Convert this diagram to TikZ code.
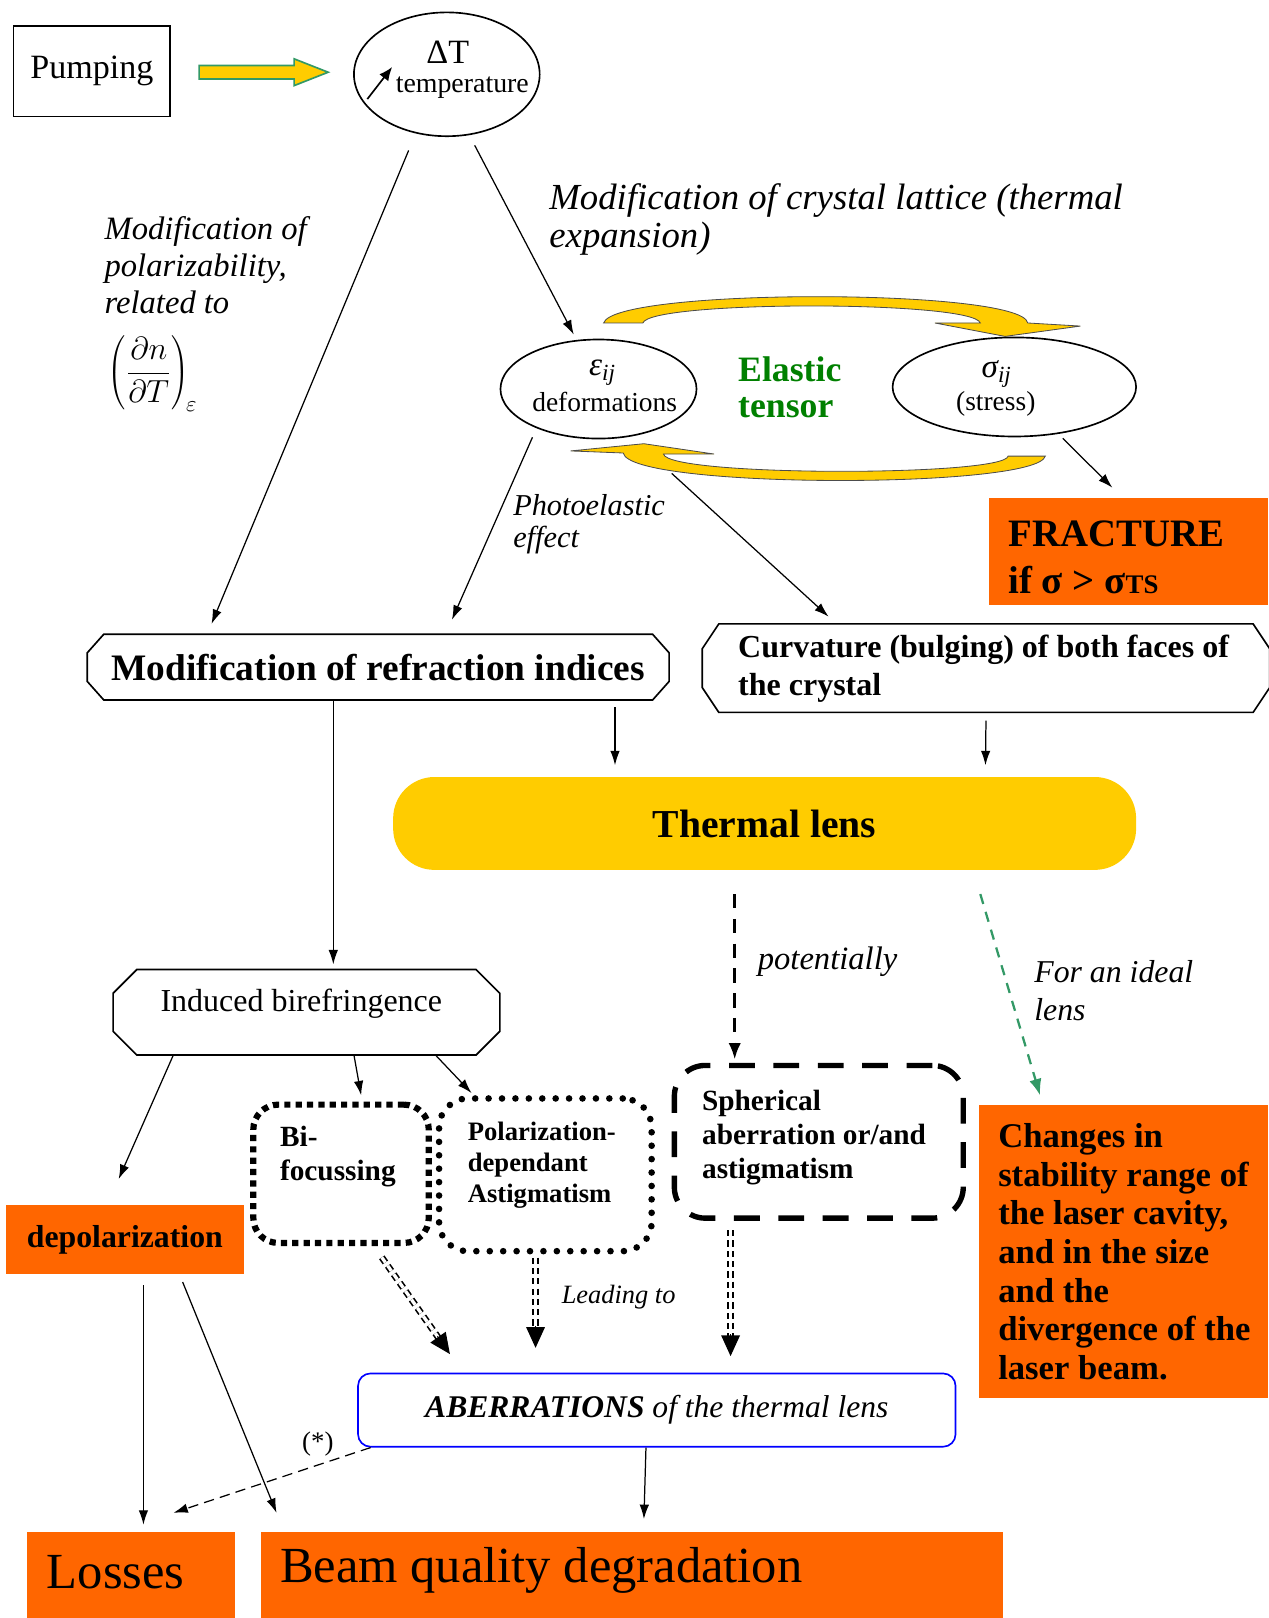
\documentclass[tikz,border=0pt]{standalone}
\usepackage{fix-cm}
\usepackage{fontspec}
\setmainfont{Liberation Serif}
\usetikzlibrary{shapes.geometric,arrows.meta,calc}

\definecolor{lensyellow}{HTML}{FFCC00}
\definecolor{boxorange}{HTML}{FF6600}
\definecolor{tensorgreen}{HTML}{008000}
\definecolor{idealgreen}{HTML}{339966}

\newcommand\fsz[2]{\fontsize{#1}{#2}\selectfont}
% octagon round a named node: node, x cut, y cut
\newcommand\octframe[3]{\draw[octline] ([xshift=#2]#1.north west) -- ([xshift=-#2]#1.north east) -- ([yshift=-#3]#1.north east) -- ([yshift=#3]#1.south east) -- ([xshift=-#2]#1.south east) -- ([xshift=#2]#1.south west) -- ([yshift=#3]#1.south west) -- ([yshift=-#3]#1.north west) -- cycle;}
% double dashed arrow between two named coordinates
\newcommand\dblarrow[2]{\draw[dblline, shorten >=9pt] (#1) -- (#2); \draw[bigtip] ($(#2)!10.5pt!(#1)$) -- (#2);}

\begin{document}
\begin{tikzpicture}[x=0.5pt,y=-0.5pt,
  arr/.style={-{Latex[length=7pt,width=4.6pt]}, line width=0.6pt},
  octline/.style={draw, line width=0.8pt},
  orangebox/.style={rectangle, fill=boxorange, inner sep=0pt},
  lbl/.style={inner sep=0pt, align=left},
  dblline/.style={double, double distance=1.6pt, line width=0.8pt, dash pattern=on 3pt off 2pt},
  bigtip/.style={-{Triangle[length=10pt,width=9pt]}, line width=0.5pt}]
\useasboundingbox (0,0) rectangle (1229,1568);

            % Pumping and temperature
            \node[draw, line width=0.8pt, minimum width=76pt, minimum height=44pt, font=\fsz{16.5}{18}] (pump) at (89,69) {Pumping};
            \filldraw[fill=lensyellow, draw=idealgreen, line width=0.8pt] (193,63.5) -- (285,63.5) -- (285,57) -- (318,70) -- (285,83) -- (285,76.5) -- (193,76.5) -- cycle;
            \node[ellipse, draw, line width=0.8pt, minimum width=90pt, minimum height=60pt] (dT) at (433,72) {};
            \node[font=\fsz{16.5}{18}] (dTsym) at (434,51) {ΔT};
            \node[font=\fsz{13.5}{15}] (dTtxt) at (448,85) {temperature};
            \coordinate (up1) at (356,96);
            \coordinate (up2) at (380,65);
            \draw[-{Latex[length=6.5pt,width=5.5pt]}, line width=0.8pt] (up1) -- (up2);

            % Elastic tensor
            \node[ellipse, draw, line width=0.8pt, minimum width=95pt, minimum height=48pt] (eps) at (580,377) {};
            \node[font=\fsz{16}{17}] (epssym) at (584,361) {\textit{ε\textsubscript{ij}}};
            \node[font=\fsz{13.3}{15}] (epstxt) at (586,390) {deformations};
            \node[ellipse, draw, line width=0.8pt, minimum width=118pt, minimum height=48pt] (sig) at (983,375) {};
            \node[font=\fsz{16}{17}] (sigsym) at (966,362) {\textit{σ\textsubscript{ij}}};
            \node[font=\fsz{13.3}{15}] (sigtxt) at (965,391) {(stress)};
            \node[lbl, anchor=west, text=tensorgreen, font=\bfseries\fsz{17.3}{17.5}] (tensor) at (715,375) {Elastic\\tensor};
            \filldraw[fill=lensyellow, draw=black!70, line width=0.4pt] (585,313) .. controls (595,279) and (990,279) .. (996,313) -- (1047,316) -- (974,326) -- (906,313) -- (950,313) .. controls (943,291) and (630,291) .. (623,313) -- cycle;
            \filldraw[fill=lensyellow, draw=black!70, line width=0.4pt] (553,437) -- (624,430) -- (692,440) -- (643,440) .. controls (647,462) and (973,462) .. (977,442) -- (1013,442) .. controls (1005,474) and (610,474) .. (604,439) -- cycle;

            % Comments
            \node[lbl, anchor=north west, font=\itshape\fsz{15.8}{18}] (polz) at (101,209) {Modification of\\polarizability,\\related to};
            \node[anchor=north west, inner sep=0pt, font=\fsz{15.5}{18}] (dndT) at (104,325) {$\left(\displaystyle\frac{\partial n}{\partial T}\right)_{\!\varepsilon}$};
            \node[lbl, anchor=west, font=\itshape\fsz{17.8}{18.5}] (lattice) at (532,213) {Modification of crystal lattice (thermal\\expansion)};
            \node[lbl, anchor=west, font=\itshape\fsz{14.7}{15.5}] (photo) at (497,508) {Photoelastic\\effect};
            \node[orangebox, minimum width=135.5pt, minimum height=51.5pt] (frac) at (1093.5,534.5) {};
            \node[lbl, anchor=west, font=\bfseries\fsz{18.8}{22.5}] (fractxt) at (977,540) {FRACTURE\\if σ > σ{\fsz{13}{13}TS}};

            % Refraction indices and bulging
            \node[minimum width=281.5pt, minimum height=31.5pt, font=\bfseries\fsz{18.1}{20}] (modref) at (366.5,646.5) {Modification of refraction indices};
            \octframe{modref}{8pt}{9pt}
            \node[minimum width=274.5pt, minimum height=42.5pt] (curv) at (955.5,647.5) {};
            \octframe{curv}{8pt}{12pt}
            \node[lbl, anchor=west, font=\bfseries\fsz{15.5}{18.5}] (curvtxt) at (715,648) {Curvature (bulging) of both faces of\\the crystal};
            \node[fill=lensyellow, rounded corners=20pt, minimum width=360pt, minimum height=45pt, font=\bfseries\fsz{19.2}{21}] (lens) at (741,798) {Thermal lens};

            % Birefringence and aberration types
            \node[minimum width=187pt, minimum height=41pt] (biref) at (297,981) {};
            \octframe{biref}{11.5pt}{11.5pt}
            \node[font=\fsz{15.5}{17}] (bireftxt) at (292,973) {Induced birefringence};
            \node[lbl, anchor=west, font=\itshape\fsz{15.8}{18}] (pot) at (734,932) {potentially};
            \node[lbl, anchor=west, font=\itshape\fsz{15.4}{18}] (ideal) at (1002,960) {For an ideal\\lens};
            \node[draw, line width=2.6pt, dash pattern=on 12.5pt off 9pt, rounded corners=15pt, minimum width=140pt, minimum height=74pt] (spher) at (793.5,1106.5) {};
            \node[lbl, anchor=west, font=\bfseries\fsz{14.2}{16.5}] (sphertxt) at (680,1102) {Spherical\\aberration or/and\\astigmatism};
            \node[draw, line width=3pt, dash pattern=on 3pt off 2.5pt, rounded corners=12pt, minimum width=85pt, minimum height=67pt] (bifoc) at (330.5,1137.5) {};
            \node[lbl, anchor=west, font=\bfseries\fsz{14.2}{16.5}] (biftxt) at (271,1121) {Bi-\\focussing};
            \node[draw, line width=3.2pt, line cap=round, dash pattern=on 0pt off 6.5pt, rounded corners=14pt, minimum width=103pt, minimum height=74pt] (poldep) at (528.5,1138.5) {};
            \node[lbl, anchor=west, font=\bfseries\fsz{12.9}{15}] (poltxt) at (453,1129) {Polarization-\\dependant\\Astigmatism};
            \node[orangebox, minimum width=115pt, minimum height=33.5pt, font=\bfseries\fsz{15.4}{17}] (depol) at (121,1201.5) {depolarization};
            \node[orangebox, minimum width=140pt, minimum height=142pt] (changes) at (1089,1213) {};
            \node[lbl, anchor=west, font=\bfseries\fsz{16.8}{18.7}] (chgtxt) at (967,1213) {Changes in\\stability range of\\the laser cavity,\\and in the size\\and the\\divergence of the\\laser beam.};

            % Aberrations and results
            \node[lbl, anchor=west, font=\itshape\fsz{12.8}{14}] (lead) at (544,1257) {Leading to};
            \node[draw=blue, line width=0.8pt, rounded corners=6pt, minimum width=289.5pt, minimum height=35.5pt, font=\itshape\fsz{15.3}{17}] (aberr) at (636.5,1366.5) {\textbf{ABERRATIONS} of the thermal lens};
            \node[font=\fsz{13}{15}] (star) at (308,1399) {(*)};
            \node[orangebox, minimum width=101pt, minimum height=42pt] (loss) at (127,1527) {};
            \node[lbl, anchor=west, font=\fsz{24.5}{26}] (losstxt) at (45,1524) {Losses};
            \node[orangebox, minimum width=359.5pt, minimum height=42pt] (beam) at (612.5,1527) {};
            \node[lbl, anchor=west, font=\fsz{24.5}{26}] (beamtxt) at (271,1522) {Beam quality degradation};

            % Links
            \draw[arr] ([xshift=-18.5pt,yshift=-6.5pt]dT.south) -- ([xshift=-80.75pt,yshift=5pt]modref.north);
            \draw[arr] ([xshift=13.5pt,yshift=-4pt]dT.south) -- ([xshift=-12pt,yshift=2pt]eps.north);
            \draw[arr] ([xshift=-32pt,yshift=1pt]eps.south) -- ([xshift=35.75pt,yshift=7pt]modref.north);
            \draw[arr] ([xshift=35.5pt,yshift=-16.5pt]eps.south) -- ([xshift=-76.25pt,yshift=3.5pt]curv.north);
            \draw[arr] ([xshift=23.5pt,yshift=-0.5pt]sig.south) -- ([xshift=-7.75pt,yshift=5pt]frac.north);
            \draw[arr] ([xshift=-21.75pt]modref.south) -- ([xshift=13pt,yshift=2.5pt]biref.north);
            \draw[arr] ([xshift=114.75pt,yshift=-3.5pt]modref.south) -- ([xshift=-72.5pt,yshift=5.5pt]lens.north);
            \draw[arr] ([yshift=-4pt]curv.south) -- ([xshift=107pt,yshift=5.5pt]lens.north);
            \draw[-{Latex[length=8pt,width=6pt]}, line width=1.5pt, dash pattern=on 7pt off 5pt] ([xshift=-14.5pt,yshift=-11.5pt]lens.south) -- ([xshift=-40.75pt,yshift=1.5pt]spher.north);
            \draw[-{Latex[length=8pt,width=6pt]}, idealgreen, line width=1.1pt, dash pattern=on 5pt off 4pt] ([xshift=104.5pt,yshift=-11.5pt]lens.south) -- ([xshift=-40.5pt,yshift=4.5pt]changes.north);
            \draw[arr] ([xshift=-64.5pt]biref.south) -- ([xshift=-3pt,yshift=12.5pt]depol.north);
            \draw[arr] ([xshift=23pt]biref.south) -- ([xshift=9.75pt,yshift=3pt]bifoc.north);
            \draw[arr] ([xshift=62.5pt]biref.south) -- ([xshift=-35.75pt,yshift=1pt]poldep.north);
            \coordinate (d1a) at ([xshift=19.75pt,yshift=-5.5pt]bifoc.south);
            \coordinate (d1b) at ([xshift=-100.25pt,yshift=9pt]aberr.north);
            \coordinate (d2a) at ([xshift=-4.75pt,yshift=-1.5pt]poldep.south);
            \coordinate (d2b) at ([xshift=-58.75pt,yshift=12pt]aberr.north);
            \coordinate (d3a) at ([xshift=-42.75pt,yshift=-4.5pt]spher.south);
            \coordinate (d3b) at ([xshift=35.75pt,yshift=8pt]aberr.north);
            \dblarrow{d1a}{d1b}
            \dblarrow{d2a}{d2b}
            \dblarrow{d3a}{d3b}
            \draw[arr] ([xshift=9pt,yshift=-5pt]depol.south) -- ([xshift=6pt,yshift=3.5pt]loss.north);
            \draw[arr] ([xshift=28pt,yshift=-3.5pt]depol.south) -- ([xshift=-172.25pt,yshift=9.25pt]beam.north);
            \draw[arr, dash pattern=on 5pt off 3pt] ([xshift=6.5pt]aberr.south west) -- ([xshift=20.5pt,yshift=9.25pt]loss.north);
            \draw[arr] ([xshift=-5.25pt]aberr.south) -- ([xshift=5.75pt,yshift=6.25pt]beam.north);

\end{tikzpicture}
\end{document}
